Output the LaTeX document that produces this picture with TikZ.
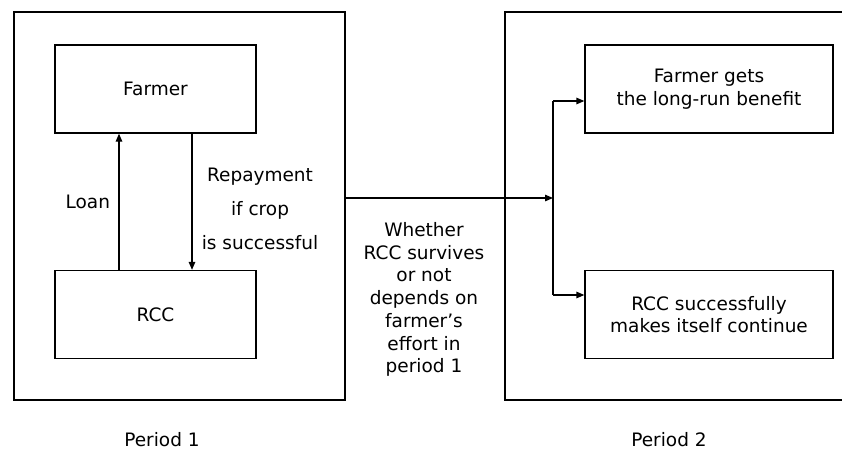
\documentclass[tikz,border=0pt]{standalone}
\usepackage{fontspec}
\setmainfont{DejaVu Sans}
\usetikzlibrary{arrows.meta}

\begin{document}
\begin{tikzpicture} [
                x=1pt,
                y=-1pt,
                font=\fontsize{18.5}{22.7}\selectfont,
                period/.style={draw,line width=1.3pt,minimum height=388pt,inner sep=0pt},
                stage/.style={draw,line width=1.3pt,minimum height=88pt,inner sep=0pt,align=center},
                flow/.style={draw,line width=1.3pt,-{Triangle[length=8pt,width=6.5pt]}},
                note/.style={align=center}
            ]
            \useasboundingbox (0,0) rectangle (842,450);
            % First we draw the two period frames
            \node[period,minimum width=331pt] (p1) at (179.5,206) {};
            \node[period,minimum width=345pt] (p2) at (677.5,206) {};
            % Then the boxes inside them
            \foreach \pos/\name/\w/\txt in {
                {(155.5,89)/farmer/201/Farmer}, {(155.5,314.5)/rcc/201/RCC},
                {(709,89)/benefit/248/{Farmer gets\\the long-run benefit}},
                {(709,314.5)/cont/248/{RCC successfully\\makes itself continue}}}
                \node[stage,minimum width=\w pt] (\name) at \pos {\txt};
            % Loan and repayment between farmer and RCC
            \draw[flow] ([xshift=-36.5pt]rcc.north) -- node[left=5pt] {Loan} ([xshift=-36.5pt]farmer.south);
            \draw[flow] ([xshift=36.5pt]farmer.south) -- ([xshift=36.5pt]rcc.north);
            \node[note,font=\fontsize{18.5}{34}\selectfont] (repay) at (260,209) {Repayment\\if crop\\is successful};
            % From period 1 to period 2
            \coordinate (split) at (553,198);
            \coordinate (up) at (553,101);
            \coordinate (down) at (553,295);
            \draw[flow] (p1.east |- split) -- (split);
            \path[draw,line width=1.3pt] (up) -- (down);
            \foreach \source/\dest in {up/benefit, down/cont}
                \draw[flow] (\source) -- (\source -| \dest.west);
            \node[note] (why) at (424,299.5) {Whether\\RCC survives\\or not\\depends on\\farmer's\\effort in\\period 1};
            % labels under the frames
            \node (lab1) at (162,440) {Period 1};
            \node (lab2) at (669,440) {Period 2};
        \end{tikzpicture}
\end{document}
